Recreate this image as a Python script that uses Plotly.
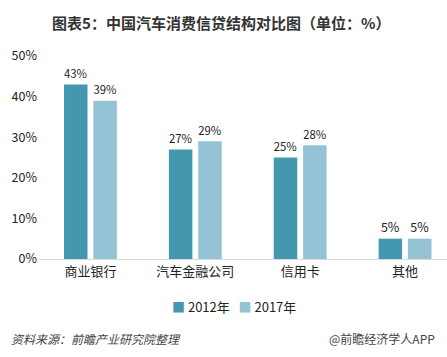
import plotly.graph_objects as go

categories = ["商业银行", "汽车金融公司", "信用卡", "其他"]
series_names = ["2012年", "2017年"]
values_2012 = [43, 27, 25, 5]
values_2017 = [39, 29, 28, 5]
y_ticks = [0, 10, 20, 30, 40, 50]

colors = ["#4398AF", "#94C3D5"]
FONT = "Noto Sans CJK SC, Microsoft YaHei, sans-serif"

fig = go.Figure()
for name, vals, c in zip(series_names, [values_2012, values_2017], colors):
    fig.add_trace(go.Bar(
        x=categories, y=vals, name=name, marker=dict(color=c, line=dict(width=0)),
        text=[f"{v}%" for v in vals], textposition="outside",
        textfont=dict(size=12.5, color="#222", family=FONT), cliponaxis=False,
    ))

fig.update_layout(
    width=447, height=357,
    margin=dict(l=37.5, r=0, t=56, b=98, autoexpand=False),
    paper_bgcolor="white", plot_bgcolor="white",
    font=dict(family=FONT, color="#222"),
    barmode="group", bargap=0.44, bargroupgap=0.2,
    title=dict(text="<b>图表5：中国汽车消费信贷结构对比图（单位：%）</b>",
               x=0.495, xanchor="center", y=1 - 24/357, yanchor="middle",
               font=dict(size=15, color="#333", family=FONT)),
    xaxis=dict(range=[-0.5, 3.4], showline=True, linecolor="#D9D9D9", linewidth=1,
               ticks="", tickfont=dict(size=13, color="#222"), showgrid=False,
               automargin=False),
    yaxis=dict(range=[0, 50], tickvals=y_ticks, ticktext=[f"{t}%" for t in y_ticks],
               showgrid=False, zeroline=False, showline=False,
               tickfont=dict(size=12.5, color="#222"), automargin=False),
    showlegend=False,
)

legend_text = "   ".join(
    f"<span style='color:{c}'>■</span> {n}" for n, c in zip(series_names, colors))
fig.add_annotation(text=legend_text, xref="paper", yref="paper",
                   x=0.48, y=-0.236, xanchor="center", yanchor="middle", showarrow=False,
                   font=dict(size=13, color="#222"))

fig.add_annotation(text="<i>资料来源：前瞻产业研究院整理</i>", xref="paper", yref="paper",
                   x=-0.072, y=-0.394, xanchor="left", yanchor="middle", showarrow=False,
                   font=dict(size=12, color="#444"))
fig.add_annotation(text="@前瞻经济学人APP", xref="paper", yref="paper",
                   x=0.9756, y=-0.394, xanchor="right", yanchor="middle", showarrow=False,
                   font=dict(size=12, color="#444"))

fig.write_html("out.html", config={"displayModeBar": False},
               post_script="document.body.style.margin='0';")
